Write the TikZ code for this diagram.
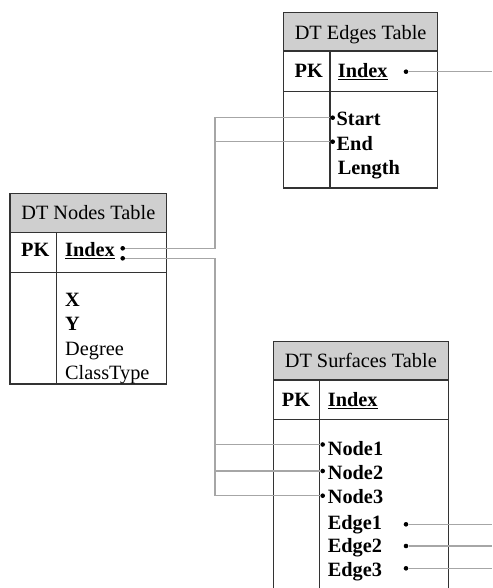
\documentclass[tikz,border=0pt]{standalone}
\usepackage{fontspec}
\setmainfont{Liberation Serif}
\begin{document}
\begin{tikzpicture}[x=1pt,y=-1pt,
  frame/.style={draw=black!80, line width=1.4pt},
  hdrfill/.style={fill=black!19},
  txt/.style={anchor=base west, inner sep=0pt, font=\fontsize{20.3}{24}\selectfont},
  btxt/.style={anchor=base west, inner sep=0pt, font=\fontsize{20.3}{24}\selectfont\bfseries},
  htxt/.style={anchor=base, inner sep=0pt, font=\fontsize{20.3}{24}\selectfont},
  dot/.style={circle, fill=black, inner sep=0pt, minimum size=4.6pt},
  conn/.style={draw=black!35, line width=1.1pt}]
\clip (0,0) rectangle (492,588);
\fill[white] (0,0) rectangle (492,588);

% ---------------- DT Edges Table ----------------
\fill[hdrfill] (283.5,12.7) rectangle (437.7,51);
\draw[frame] (283.5,12.7) rectangle (437.7,188);
\draw[frame] (283.5,51) -- (437.7,51);
\draw[frame] (283.5,91.7) -- (437.7,91.7);
\draw[frame] (330,51) -- (330,188);
\node[htxt] (eh) at (360.6,39.3) {DT Edges Table};
\node[btxt] (epk) at (294.5,77.3) {PK};
\node[btxt] (eidx) at (337.7,77.3) {\underline{Index}};
\node[btxt] (estart) at (336.5,126) {Start};
\node[btxt] (eend) at (336.5,150) {End};
\node[btxt] (elen) at (337.7,174) {Length};

% ---------------- DT Nodes Table ----------------
\fill[hdrfill] (10,193.3) rectangle (166.7,232.3);
\draw[frame] (10,193.3) rectangle (166.7,384);
\draw[frame] (10,232.3) -- (166.7,232.3);
\draw[frame] (10,272.3) -- (166.7,272.3);
\draw[frame] (56.7,232.3) -- (56.7,384);
\node[htxt] (nh) at (88.3,219.3) {DT Nodes Table};
\node[btxt] (npk) at (21,256.7) {PK};
\node[btxt] (nidx) at (65,256.3) {\underline{Index}};
\node[btxt] (nx) at (65,306.7) {X};
\node[btxt] (ny) at (65,330.7) {Y};
\node[txt] (ndeg) at (65,355) {Degree};
\node[txt] (ncls) at (65,379) {ClassType};

% ---------------- DT Surfaces Table ----------------
\fill[hdrfill] (273.3,341.7) rectangle (448.3,380);
\draw[frame] (273.3,600) -- (273.3,341.7) -- (448.3,341.7) -- (448.3,600);
\draw[frame] (273.3,380) -- (448.3,380);
\draw[frame] (273.3,419.3) -- (448.3,419.3);
\draw[frame] (319.3,380) -- (319.3,600);
\node[htxt] (sh) at (360.8,367.7) {DT Surfaces Table};
\node[btxt] (spk) at (281.7,406.7) {PK};
\node[btxt] (sidx) at (327.7,406.7) {\underline{Index}};
\node[btxt] (sn1) at (327.7,455) {Node1};
\node[btxt] (sn2) at (327.7,479.3) {Node2};
\node[btxt] (sn3) at (327.7,503.3) {Node3};
\node[btxt] (se1) at (327.7,529) {Edge1};
\node[btxt] (se2) at (327.7,552.3) {Edge2};
\node[btxt] (se3) at (327.7,576) {Edge3};

% ---------------- dots ----------------
\node[dot] (deidx) at (406,71.7) {};
\node[dot] (dstart) at (332.7,117.7) {};
\node[dot] (dend) at (332.7,141.7) {};
\node[dot] (dnidx1) at (122.7,248.3) {};
\node[dot] (dnidx2) at (122.7,258.3) {};
\node[dot] (dsn1) at (322.7,444.5) {};
\node[dot] (dsn2) at (322.7,471) {};
\node[dot] (dsn3) at (322.7,495.7) {};
\node[dot] (dse1) at (406,524.3) {};
\node[dot] (dse2) at (406,546) {};
\node[dot] (dse3) at (406,568.3) {};

% ---------------- connector points ----------------
\coordinate (b1) at (215,248.3);
\coordinate (b2) at (215,258.3);
\coordinate (oe) at (492,71.7);
\coordinate (o1) at (492,524.3);
\coordinate (o2) at (492,546);
\coordinate (o3) at (492,568.3);

% ---------------- connectors ----------------
\draw[conn] (dnidx1) -- (b1) |- (dstart);
\draw[conn] (dend) -- (dend -| b1);
\draw[conn] (dnidx2) -- (b2) |- (dsn3);
\draw[conn] (dsn1) -- (dsn1 -| b2);
\draw[conn] (dsn2) -- (dsn2 -| b2);
\draw[conn] (deidx) -- (oe);
\draw[conn] (dse1) -- (o1);
\draw[conn] (dse2) -- (o2);
\draw[conn] (dse3) -- (o3);
\end{tikzpicture}
\end{document}
